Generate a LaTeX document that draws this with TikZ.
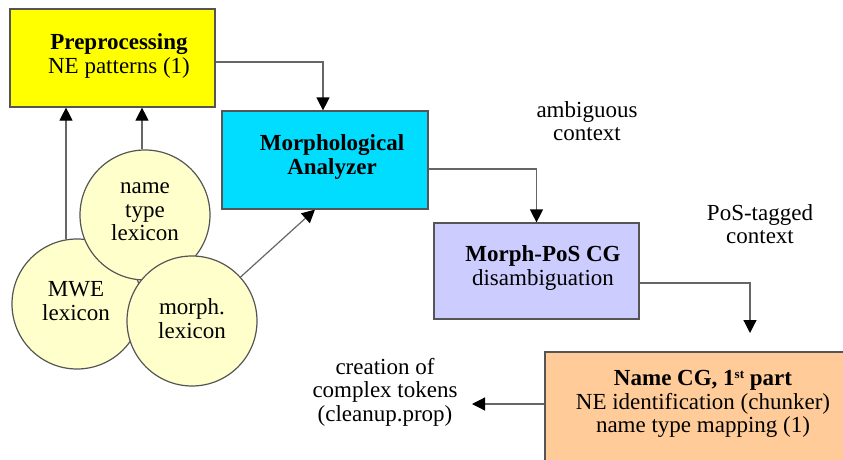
\documentclass[tikz,border=0pt]{standalone}
\usepackage{fontspec}
\setmainfont{Liberation Serif}
\usetikzlibrary{arrows.meta,calc,backgrounds}
\pgfdeclarelayer{paper}
\pgfsetlayers{paper,background,main}
\definecolor{bordc}{HTML}{555555}
\definecolor{linec}{HTML}{666666}
\definecolor{preY}{HTML}{FFFF00}
\definecolor{morC}{HTML}{00DDFF}
\definecolor{mpsL}{HTML}{CCCCFF}
\definecolor{nameO}{HTML}{FFCC99}
\definecolor{lexY}{HTML}{FFFFCC}
\begin{document}
\begin{tikzpicture}[x=1pt,y=-1pt,
  every node/.style={font=\fontsize{23}{23.5}\selectfont},
  box/.style={draw=bordc,line width=1.2pt,rectangle,inner sep=0pt},
  lex/.style={draw=bordc,line width=1.2pt,circle,fill=lexY,minimum size=130pt,inner sep=0pt,align=center},
  txt/.style={align=center,inner sep=0pt},
  arr/.style={draw=linec,line width=1.2pt,-{Triangle[length=13pt,width=13pt,color=black]}}]
\useasboundingbox (0,0) rectangle (843,460);
\begin{pgfonlayer}{paper}
\fill[white] (0,0) rectangle (843,460);
\end{pgfonlayer}
% boxes
\node[box,fill=preY,minimum width=205pt,minimum height=98pt] (pre) at (112.5,58) {};
\node[txt] (pret) at (119,56) {\textbf{Preprocessing}\\NE patterns (1)};
\node[box,fill=morC,minimum width=206pt,minimum height=98pt] (morph) at (325,160) {};
\node[txt] (morpht) at (332,157) {\textbf{Morphological}\\\textbf{Analyzer}};
\node[box,fill=mpsL,minimum width=205pt,minimum height=96pt] (mps) at (536.5,271) {};
\node[txt] (mpst) at (543,268) {\textbf{Morph-PoS CG}\\disambiguation};
\node[box,fill=nameO,minimum width=320pt,minimum height=130pt] (name) at (705,417) {};
\node[txt] (namet) at (703,404) {\textbf{Name CG, 1\raisebox{7pt}{\fontsize{13}{13}\selectfont st} part}\\NE identification (chunker)\\name type mapping (1)};
% lexicon circles (stacking order as in the reference)
\node[lex] (mwe) at (77,304) {};
\node[txt] (mwet) at (76,301) {MWE\\lexicon};
\node[lex] (ntl) at (145,215) {};
\node[txt] (ntlt) at (145,212) {name\\type\\lexicon};
\node[lex] (mlx) at (192,321) {};
\node[txt] (mlxt) at (192,318.5) {morph.\\lexicon};
% free labels
\node[txt] (amb) at (587,121) {ambiguous\\context};
\node[txt] (pos) at (760,224) {PoS-tagged\\context};
\node[txt] (cre) at (385,392) {creation of\\complex tokens\\(cleanup.prop)};
% connectors, behind the shapes
\begin{scope}[on background layer]
\draw[arr] ([yshift=-4pt]pre.east) -| ([xshift=-2pt]morph.north);
\draw[arr] ([yshift=-9pt]morph.east) -| (mps.north);
\coordinate (nametop) at (750,333);
\draw[arr] ([yshift=-12pt]mps.east) -| (nametop);
\coordinate (credest) at (472,404);
\draw[arr] (name.west |- credest) -- (credest);
\coordinate (m1) at ($(mwe.north)+(-11,1)$);
\draw[arr] (m1) -- (m1 |- pre.south);
\coordinate (n1) at ($(ntl.north)+(-3,0)$);
\draw[arr] (n1) -- (n1 |- pre.south);
\draw[arr] (mlx) -- ([xshift=-10pt]morph.south);
\end{scope}
\end{tikzpicture}
\end{document}
